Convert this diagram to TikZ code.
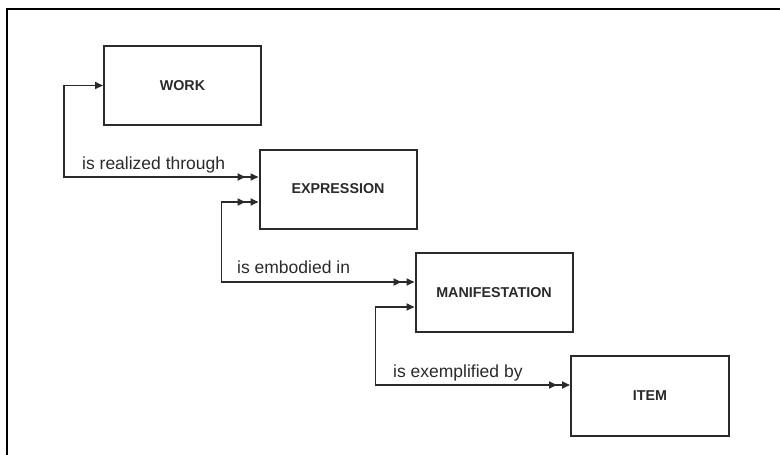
\documentclass[tikz,border=0pt]{standalone}
\usepackage{fontspec}
\setmainfont{Liberation Sans}
\usetikzlibrary{arrows.meta}
\definecolor{ink}{HTML}{2A2A2A}
\tikzset{
  entity/.style={draw=ink, line width=2pt, minimum width=157pt, minimum height=79pt,
    font=\fontsize{14.3}{16}\selectfont\bfseries, text=ink, inner sep=0pt},
  rel/.style={draw=ink, line width=1.8pt},
  relabel/.style={font=\fontsize{17.5}{20}\selectfont, text=ink, inner sep=0pt, anchor=base west},
  one/.tip={Triangle[length=8pt,width=7pt]},
  many/.tip={Triangle[length=8pt,width=7pt,sep=5pt] Triangle[length=8pt,width=7pt]}
}
\begin{document}
\begin{tikzpicture}[x=1pt,y=-1pt]
\useasboundingbox (0,0) rectangle (780,455);
% outer frame (top and left edges)
\draw[line width=2pt, black] (7,455) -- (7,9) -- (780,9);

\node[entity] (work) at (182.5,85.5) {WORK};
\node[entity] (expr) at (338,189) {EXPRESSION};
\node[entity] (mani) at (494,292.5) {MANIFESTATION};
\node[entity, minimum width=158pt, minimum height=80pt] (item) at (650,396) {ITEM};

\draw[rel, {one}-{many}] (work.west) -- ++(-39,0) |- ([yshift=12pt]expr.west);
\draw[rel, {many}-{many}] ([yshift=-13pt]expr.west) -- ++(-37,0) |- ([yshift=10.5pt]mani.west);
\draw[rel, {one}-{many}] ([yshift=-14.5pt]mani.west) -- ++(-39,0) |- ([yshift=11pt]item.west);

\node[relabel] (l1) at (82,169) {is realized through};
\node[relabel] (l2) at (237,273) {is embodied in};
\node[relabel] (l3) at (393,377) {is exemplified by};
\end{tikzpicture}
\end{document}
